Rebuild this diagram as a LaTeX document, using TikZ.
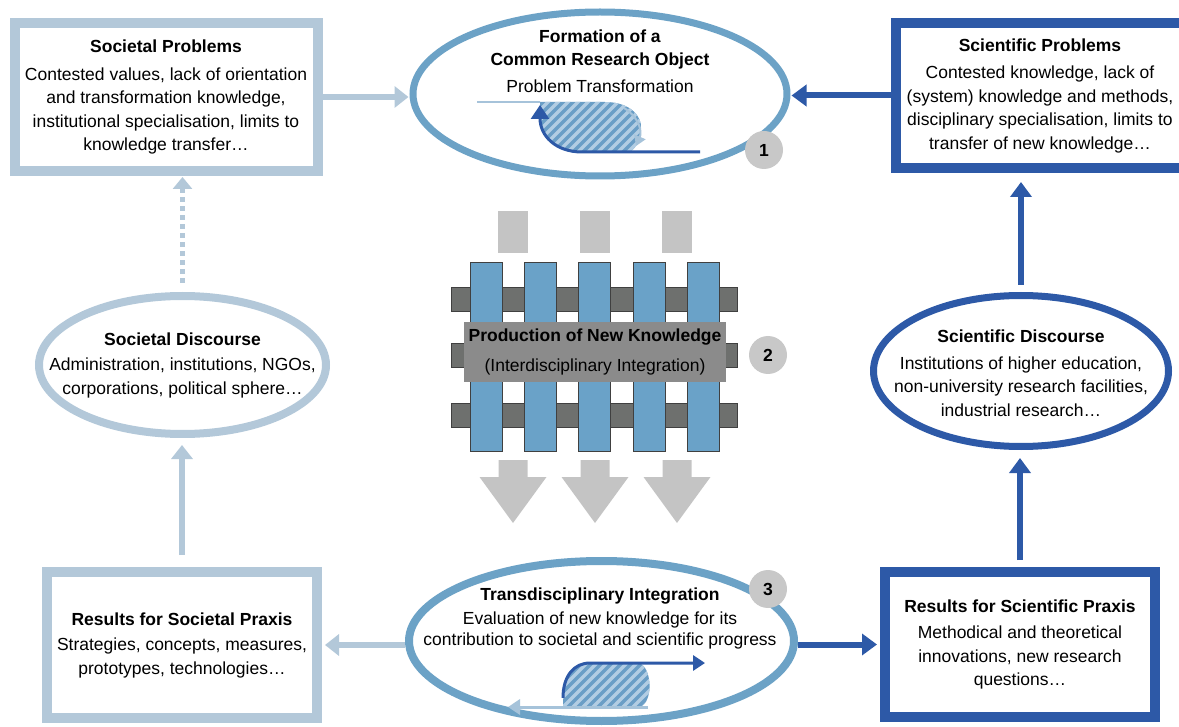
\documentclass[tikz,border=0pt]{standalone}
\usepackage{fontspec}
\setmainfont{Liberation Sans}
\usetikzlibrary{shapes.geometric, arrows.meta, positioning, calc}
\definecolor{soclight}{HTML}{B3C8D9}
\definecolor{midblue}{HTML}{6CA2C6}
\definecolor{sciblue}{HTML}{2D59A7}
\definecolor{barblue}{HTML}{6AA2C8}
\definecolor{bargray}{HTML}{6E706E}
\definecolor{labelgray}{HTML}{8B8B8B}
\definecolor{palegray}{HTML}{C4C4C4}
\definecolor{numgray}{HTML}{C8C8C8}
\definecolor{thinblue}{HTML}{A6C3DA}
\definecolor{hatchblue}{HTML}{6A9EC6}
\definecolor{hatchline}{HTML}{B2CDE3}

\begin{document}
\begin{tikzpicture}[x=1pt, y=-1pt,
  font=\fontsize{17.5}{23.5}\selectfont,
  box/.style={
    rectangle, line width=10pt, fill=white,
    align=center, inner sep=0pt
  },
  disc/.style={
    ellipse, line width=8pt, fill=white, inner sep=0pt
  },
  numcirc/.style={
    circle, fill=numgray, minimum size=38pt, inner sep=0pt,
    font=\fontsize{17.5}{20}\selectfont\bfseries
  },
  socarrow/.style={soclight, line width=6pt, -{Triangle[length=14pt,width=21pt]}},
  socdots/.style={soclight, line width=5pt, dash pattern=on 5pt off 4pt,
    -{Triangle[length=12pt,width=19pt]}},
  sciarrow/.style={sciblue, line width=6pt, -{Triangle[length=15pt,width=21pt]}},
  bar/.style={draw=black!75, line width=0.8pt},
  hatch/.style={hatchline, line width=3.5pt},
]
  \useasboundingbox (0,0) rectangle (1179,727);

  % problems, discourses and results
  \node[box, draw=soclight, minimum width=303pt, minimum height=148pt] (socprob) at (166,97)
    {\textbf{Societal Problems}\\[4pt]Contested values, lack of orientation\\and transformation knowledge,\\institutional specialisation, limits to\\knowledge transfer\dots};
  \node[box, draw=sciblue, minimum width=288pt, minimum height=145pt] (sciprob) at (1040,95.5)
    {\textbf{Scientific Problems}\\[4pt]Contested knowledge, lack of\\(system) knowledge and methods,\\disciplinary specialisation, limits to\\transfer of new knowledge\dots};
  \node[disc, draw=soclight, minimum width=287pt, minimum height=138pt] (socdisc) at (182.5,365) {};
  \node[align=center] (socdisctext) at (socdisc.center)
    {\textbf{Societal Discourse}\\[2pt]Administration, institutions, NGOs,\\corporations, political sphere\dots};
  \node[disc, draw=sciblue, line width=7pt, minimum width=295pt, minimum height=151pt] (scidisc) at (1021,371) {};
  \node[align=center] (scidisctext) at ([yshift=-2pt]scidisc.center)
    {\textbf{Scientific Discourse}\\[3pt]Institutions of higher education,\\non-university research facilities,\\industrial research\dots};
  \node[box, draw=soclight, minimum width=270pt, minimum height=146pt] (socres) at (182,645)
    {\textbf{Results for Societal Praxis}\\[2pt]Strategies, concepts, measures,\\prototypes, technologies\dots};
  \node[box, draw=sciblue, minimum width=270pt, minimum height=145pt] (scires) at (1020,644.5)
    {\textbf{Results for Scientific Praxis}\\[3pt]Methodical and theoretical\\innovations, new research\\questions\dots};

  % common research object
  \node[disc, draw=midblue, line width=7pt, minimum width=374pt, minimum height=164pt] (formation) at (600,94) {};
  \node[align=center] (formtext) at (600,61)
    {\textbf{Formation of a}\\\textbf{Common Research Object}\\[3pt]Problem Transformation};
  \begin{scope}
    \clip (540,102) -- (605,102) .. controls (632,102) and (642,118) .. (641,128)
      .. controls (640,140) and (636,148) .. (630,152)
      -- (582,152) .. controls (556,152) and (540,136) .. (540,112) -- cycle;
    \fill[hatchblue] (530,95) rectangle (650,160);
    \foreach \k in {0,...,16}
      \draw[hatch] (470+\k*10,170) -- ++(80,-80);
  \end{scope}
  \draw[thinblue, line width=2pt] (477,102) -- (540,102);
  \draw[thinblue, line width=2pt, -{Triangle[length=10pt,width=12pt]}]
    (624,108) .. controls (640,118) and (642,132) .. (636,146);
  \draw[sciblue, line width=3pt, -{Triangle[length=14pt,width=18pt]}]
    (700,152) -- (582,152) .. controls (556,152) and (540,136) .. (540,105);

  % interdisciplinary production
  \foreach \x in {498,580,662}
    \fill[palegray] (\x,211) rectangle (\x+30,253);
  \foreach \y in {287,343,403}
    \draw[bar, fill=bargray] (451,\y) rectangle (737,\y+24);
  \foreach \x in {470,524,578,633,687}
    \draw[bar, fill=barblue] (\x,262) rectangle (\x+32,451);
  \node[fill=labelgray, minimum width=262pt, minimum height=60pt, inner sep=0pt, align=center] (prodlabel) at (595,352)
    {\textbf{Production of New Knowledge}\\[6pt](Interdisciplinary Integration)};
  \foreach \x in {513,595,677}
    \fill[palegray] (\x-14.5,460) -- (\x+14.5,460) -- (\x+14.5,477) -- (\x+33.5,477)
      -- (\x,523) -- (\x-33.5,477) -- (\x-14.5,477) -- cycle;

  % transdisciplinary integration
  \node[disc, draw=midblue, minimum width=385pt, minimum height=160pt] (transint) at (601.5,641) {};
  \node[align=center, font=\fontsize{17.5}{21}\selectfont] (transtext) at (600,618)
    {\textbf{Transdisciplinary Integration}\\[3pt]Evaluation of new knowledge for its\\contribution to societal and scientific progress};
  \begin{scope}
    \clip (563,707) -- (563,697) .. controls (563,676) and (574,663) .. (590,663) -- (638,663)
      .. controls (652,665) and (654,702) .. (640,707) -- cycle;
    \fill[hatchblue] (555,655) rectangle (660,712);
    \foreach \k in {0,...,16}
      \draw[hatch] (500+\k*10,720) -- ++(70,-70);
  \end{scope}
  \draw[sciblue, line width=3pt, -{Triangle[length=12pt,width=15pt]}]
    (563,698) .. controls (563,676) and (574,663) .. (590,663) -- (705,663);
  \draw[thinblue, line width=3pt, -{Triangle[length=12pt,width=15pt]}]
    (648,707) -- (508,707);

  % step numbers
  \node[numcirc] (num1) at (764,150) {1};
  \node[numcirc] (num2) at (768,355) {2};
  \node[numcirc] (num3) at (768,589) {3};

  % connectors
  \draw[socarrow, shorten >=1pt] (socprob.east) -- (socprob.east -| formation.west);
  \draw[sciarrow, shorten >=1pt] (sciprob.west) -- (sciprob.west -| formation.east);
  \draw[socdots, shorten <=9pt, shorten >=1pt] (socdisc.north) -- (socdisc.north |- socprob.south);
  \draw[socarrow, shorten <=12pt, shorten >=7pt] (socres.north) -- (socres.north |- socdisc.south);
  \draw[sciarrow, shorten <=7pt, shorten >=9pt] (scidisc.north) -- (scidisc.north |- sciprob.south);
  \draw[sciarrow, shorten <=7pt, shorten >=8pt] (scires.north) -- (scires.north |- scidisc.south);
  \draw[socarrow, shorten >=3pt] (transint.west |- socres.east) -- (socres.east);
  \draw[sciarrow, shorten >=3pt] (transint.east |- scires.west) -- (scires.west);
\end{tikzpicture}
\end{document}
